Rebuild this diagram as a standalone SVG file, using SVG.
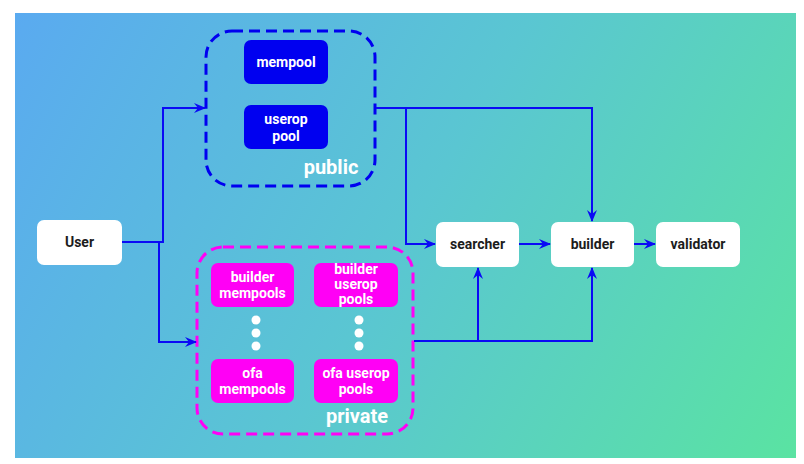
<svg xmlns="http://www.w3.org/2000/svg" width="804" height="464" viewBox="0 0 804 464">
<defs>
<linearGradient id="bg" gradientUnits="userSpaceOnUse" x1="15" y1="13" x2="796" y2="458">
<stop offset="0" stop-color="#5aaaf0"/>
<stop offset="0.5" stop-color="#5ac6d2"/>
<stop offset="1" stop-color="#5ae3a2"/>
</linearGradient>
<marker id="arr" viewBox="0 0 12 10" refX="11" refY="5" markerWidth="12" markerHeight="10" markerUnits="userSpaceOnUse" orient="auto">
<path d="M0,0 L12,5 L0,10 L4,5 Z" fill="#0a0af5"/>
</marker>
<style>
.wn{fill:#ffffff}
.bn{fill:#0000f0}
.mn{fill:#ff00f5}
.dt{font-family:Roboto,"Liberation Sans",sans-serif;font-weight:bold;font-size:14px;fill:#1c1c1c;text-anchor:middle}
.lt{font-family:Roboto,"Liberation Sans",sans-serif;font-weight:bold;font-size:14px;fill:#ffffff;text-anchor:middle}
.gl{font-family:Roboto,"Liberation Sans",sans-serif;font-weight:bold;font-size:20px;fill:#ffffff;text-anchor:middle}
.ln{fill:none;stroke:#0a0af5;stroke-width:2}
</style>
</defs>
<rect x="0" y="0" width="804" height="464" fill="#ffffff"/>
<rect x="15" y="13" width="781" height="445" fill="url(#bg)"/>

<g id="public">
<rect x="206" y="31" width="169" height="155" rx="26" fill="none" stroke="#0000f0" stroke-width="3" stroke-dasharray="11 6"/>
<text class="gl" x="331" y="174">public</text>
</g>
<g id="mempool">
<rect class="bn" x="244" y="40" width="84" height="44" rx="7"/>
<text class="lt" x="286" y="67">mempool</text>
</g>
<g id="userop-pool">
<rect class="bn" x="244" y="105" width="84" height="44" rx="7"/>
<text class="lt" x="286" y="124">userop</text>
<text class="lt" x="286" y="141">pool</text>
</g>

<g id="private">
<rect x="197" y="247" width="216" height="187" rx="26" fill="none" stroke="#ff00f5" stroke-width="3" stroke-dasharray="11 6"/>
<text class="gl" x="357" y="423">private</text>
<circle class="wn" cx="256" cy="320" r="4.5"/>
<circle class="wn" cx="256" cy="333" r="4.5"/>
<circle class="wn" cx="256" cy="346" r="4.5"/>
<circle class="wn" cx="359" cy="320" r="4.5"/>
<circle class="wn" cx="359" cy="333" r="4.5"/>
<circle class="wn" cx="359" cy="346" r="4.5"/>
</g>
<g id="builder-mempools">
<rect class="mn" x="211" y="263" width="83" height="44" rx="7"/>
<text class="lt" x="252.5" y="282">builder</text>
<text class="lt" x="252.5" y="298">mempools</text>
</g>
<g id="builder-userop-pools">
<rect class="mn" x="314" y="263" width="84" height="44" rx="7"/>
<text class="lt" x="356" y="274">builder</text>
<text class="lt" x="356" y="289">userop</text>
<text class="lt" x="356" y="304">pools</text>
</g>
<g id="ofa-mempools">
<rect class="mn" x="211" y="359" width="83" height="44" rx="7"/>
<text class="lt" x="252.5" y="378">ofa</text>
<text class="lt" x="252.5" y="394">mempools</text>
</g>
<g id="ofa-userop-pools">
<rect class="mn" x="314" y="359" width="84" height="44" rx="7"/>
<text class="lt" x="356" y="378">ofa userop</text>
<text class="lt" x="356" y="394">pools</text>
</g>

<g id="user">
<rect class="wn" x="37" y="220" width="85" height="45" rx="7"/>
<text class="dt" x="79.5" y="247">User</text>
</g>
<g id="searcher">
<rect class="wn" x="436" y="222" width="83" height="45" rx="7"/>
<text class="dt" x="477.5" y="249">searcher</text>
</g>
<g id="builder">
<rect class="wn" x="551" y="222" width="83" height="45" rx="7"/>
<text class="dt" x="592.5" y="249">builder</text>
</g>
<g id="validator">
<rect class="wn" x="656" y="222" width="84" height="45" rx="7"/>
<text class="dt" x="698" y="249">validator</text>
</g>

<g id="connectors">
<path class="ln" d="M122,242 H163 V108 H205" marker-end="url(#arr)"/>
<path class="ln" d="M159,242 V342 H196" marker-end="url(#arr)"/>
<path class="ln" d="M376,108 H592 V221" marker-end="url(#arr)"/>
<path class="ln" d="M406,108 V244 H435" marker-end="url(#arr)"/>
<path class="ln" d="M519,244 H550" marker-end="url(#arr)"/>
<path class="ln" d="M634,244 H655" marker-end="url(#arr)"/>
<path class="ln" d="M414,341 H592 V268" marker-end="url(#arr)"/>
<path class="ln" d="M478,341 V268" marker-end="url(#arr)"/>
</g>
</svg>
